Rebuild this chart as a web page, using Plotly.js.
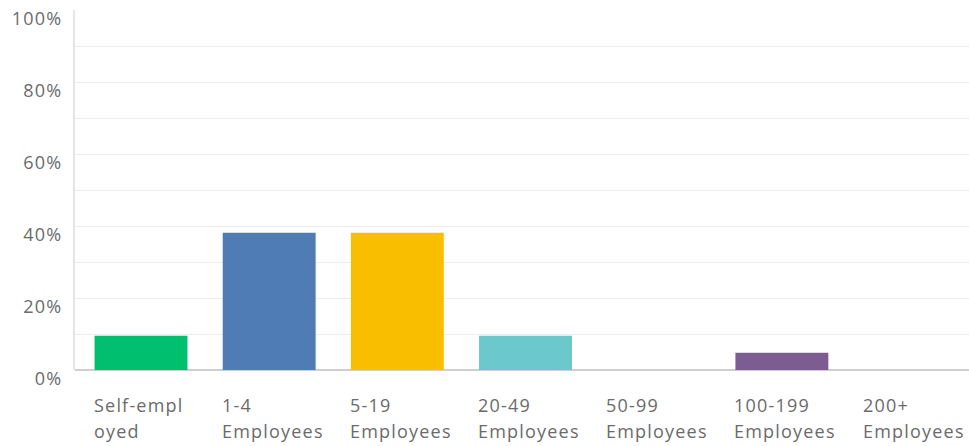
<!DOCTYPE html>
<html>
<head>
<meta charset="utf-8">
<script src="https://cdn.plot.ly/plotly-3.0.1.min.js"></script>
<style>
html,body{margin:0;padding:0;background:#fff;}
#chart{width:969px;height:446px;}
.annotation-text, .ytick text { letter-spacing: 1.2px; }
</style>
</head>
<body>
<div id="chart"></div>
<script>
var categories = ["Self-employed", "1-4 Employees", "5-19 Employees", "20-49 Employees", "50-99 Employees", "100-199 Employees", "200+ Employees"];
var labelLine1 = ["Self-empl", "1-4", "5-19", "20-49", "50-99", "100-199", "200+"];
var labelLine2 = ["oyed", "Employees", "Employees", "Employees", "Employees", "Employees", "Employees"];
var percentValues = [9.52, 38.10, 38.10, 9.52, 0, 4.76, 0];
var barColors = ["#00bf6f", "#507cb6", "#f9be00", "#6bc8cd", "#f05b24", "#7d5c91", "#a8a8a8"];
var yTickValues = [0, 10, 20, 30, 40, 50, 60, 70, 80, 90, 100];
var yTickText = ["0%", "", "20%", "", "40%", "", "60%", "", "80%", "", "100%"];

var labelFont = {family: "Open Sans, sans-serif", size: 18, color: "#6b6b6b"};

var trace = {
  type: "bar",
  x: categories,
  y: percentValues,
  marker: {color: barColors, line: {width: 0}},
  hoverinfo: "x+y"
};

var annotations = [];
categories.forEach(function (c, i) {
  [labelLine1[i], labelLine2[i]].forEach(function (t, k) {
    annotations.push({
      xref: "x", yref: "paper",
      x: i - 0.3625, y: 0,
      xanchor: "left", yanchor: "middle",
      xshift: -3,
      yshift: k === 0 ? -35 : -61,
      align: "left",
      showarrow: false,
      text: t,
      font: labelFont
    });
  });
});

var layout = {
  width: 969, height: 446,
  margin: {l: 75, r: 0, t: 10, b: 76},
  paper_bgcolor: "#ffffff",
  plot_bgcolor: "#ffffff",
  showlegend: false,
  bargap: 0.275,
  xaxis: {
    range: [-0.515, 6.46],
    showticklabels: false,
    showgrid: false,
    zeroline: false,
    showline: false,
    ticks: "",
    fixedrange: true
  },
  yaxis: {
    range: [0, 100],
    tickvals: yTickValues,
    ticktext: yTickText,
    showgrid: true,
    gridcolor: "#ececec",
    gridwidth: 1,
    zeroline: true,
    zerolinecolor: "#cfcfcf",
    zerolinewidth: 2,
    showline: true,
    linecolor: "#e6e6e6",
    linewidth: 2,
    ticks: "",
    ticklabelstandoff: 7,
    ticklabelshift: 9,
    tickfont: labelFont,
    fixedrange: true
  },
  annotations: annotations
};

Plotly.newPlot("chart", [trace], layout, {displayModeBar: false, staticPlot: true});
</script>
</body>
</html>
